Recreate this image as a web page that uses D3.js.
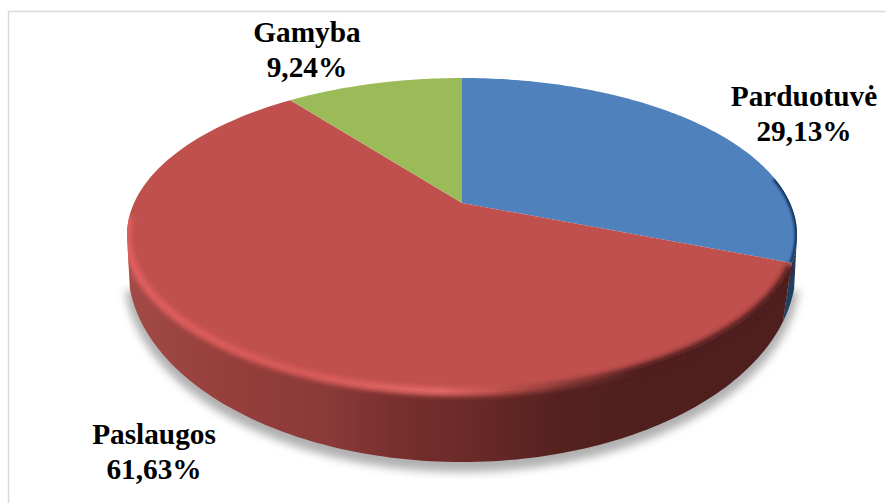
<!DOCTYPE html>
<html>
<head>
<meta charset="utf-8">
<script src="https://cdn.jsdelivr.net/npm/d3@7"></script>
<style>
  html, body { margin: 0; padding: 0; background: #fff; }
  text { font-family: "Liberation Serif", serif; font-weight: bold; font-size: 29.3px; fill: #000; text-anchor: middle; }
</style>
</head>
<body>
<script>
const width = 886;
const height = 503;

const categories = ["Parduotuvė", "Paslaugos", "Gamyba"];
const labelValues = ["29,13%", "61,63%", "9,24%"];
// wedge sizes: the drawn angles are not quite the printed percentages
const wedgeShares = [31, 58.6, 10.4];
const topColors = ["#4f81bd", "#c0504d", "#9bbb59"];

// perspective view of the disc, apex of the pie is at (apexX, apexY)
const apexX = 462, apexY = 203;
const spreadX = 328, spreadY = 150.5, tilt = 0.204;
function project(angle) {
  const u = Math.sin(angle), v = -Math.cos(angle), w = 1 - tilt * v;
  return [apexX + spreadX * u / w, apexY + spreadY * v / w];
}
// lower edge of the wall, same idea with less tilt
const baseCx = 462, baseCy = 268, baseRx = 334, baseRy = 194, baseTilt = 0.1;
function projectBase(angle) {
  const u = Math.sin(angle), v = -Math.cos(angle), w = 1 - baseTilt * v;
  return [baseCx + baseRx * Math.sqrt(1 - baseTilt * baseTilt) * u / w, baseCy + baseRy * (v - baseTilt) / w];
}

const svg = d3.select("body").append("svg")
  .attr("width", width)
  .attr("height", height)
  .style("display", "block");

const defs = svg.append("defs");
function blurFilter(id, dev) {
  defs.append("filter").attr("id", id)
    .attr("filterUnits", "userSpaceOnUse")
    .attr("x", 0).attr("y", 0).attr("width", width).attr("height", height)
    .append("feGaussianBlur").attr("stdDeviation", dev);
}
blurFilter("shadowBlur", 4);
blurFilter("rimBlur", 2.6);
blurFilter("edgeBlur", 1.2);

function gradient(id, stops) {
  const g = defs.append("linearGradient").attr("id", id)
    .attr("gradientUnits", "userSpaceOnUse")
    .attr("x1", 127).attr("x2", 798).attr("y1", 0).attr("y2", 0);
  stops.forEach(s => {
    g.append("stop").attr("offset", (s[0] - 127) / 671).attr("stop-color", s[1]);
  });
}
gradient("wallRed", [[127, "#a24a46"], [220, "#973f3c"], [330, "#8a3a38"], [400, "#762f2d"], [470, "#6a2a28"], [560, "#55211f"], [640, "#4f1f1e"], [798, "#4f1f1e"]]);
gradient("rimRed", [[127, "#e25e5e"], [300, "#d85b59"], [440, "#e56a68"], [500, "#c0504d"], [560, "#8a3a38"], [640, "#4f1f1e"], [798, "#4f1f1e"]]);

// frame, only the top and left edges fall inside the picture
svg.append("rect")
  .attr("x", 8.5).attr("y", 11.5)
  .attr("width", 900).attr("height", 520)
  .attr("fill", "#fff").attr("stroke", "#d9d9d9").attr("stroke-width", 1.5);

const pie = d3.pie().sort(null)(wedgeShares);
const arcLine = d3.line();

function arcPoints(start, end, fn) {
  const n = 120;
  return d3.range(n + 1).map(i => fn(start + (end - start) * i / n));
}

// front part of the disc, where the top face is at its widest
const frontStart = Math.PI / 2 + Math.asin(tilt);
const frontEnd = 2 * Math.PI - frontStart;

// ground shadow
svg.append("path")
  .attr("d", arcLine(arcPoints(frontStart, frontEnd, projectBase)) + "Z")
  .attr("transform", "translate(0,6)")
  .attr("fill", "#b0b0b0")
  .attr("stroke", "#b0b0b0")
  .attr("stroke-width", 8)
  .attr("filter", "url(#shadowBlur)");

// walls
const wallColors = ["#1f3f63", "url(#wallRed)", "#6f8a3c"];
const walls = svg.append("g");
pie.forEach((d, i) => {
  const s = Math.max(d.startAngle, frontStart), e = Math.min(d.endAngle, frontEnd);
  if (e <= s) return;
  const pts = arcPoints(s, e, project).concat(arcPoints(e, s, projectBase));
  walls.append("path").attr("d", arcLine(pts) + "Z").attr("fill", wallColors[i]);
});

// everything the bevel may paint on: top face and walls together
defs.append("clipPath").attr("id", "discClip")
  .append("path")
  .attr("d", arcLine(arcPoints(0, 2 * Math.PI, project)) + "Z " +
    arcLine(arcPoints(frontStart, frontEnd, project).concat(arcPoints(frontEnd, frontStart, projectBase))) + "Z");

// top faces
const faces = svg.append("g");
pie.forEach((d, i) => {
  const pts = [[apexX, apexY]].concat(arcPoints(d.startAngle, d.endAngle, project));
  faces.append("path").attr("d", arcLine(pts) + "Z").attr("fill", topColors[i]);
});

// bevel along the rim
const blue = pie[0], red = pie[1];
defs.append("clipPath").attr("id", "blueClip").append("path")
  .attr("d", arcLine([[apexX, apexY]].concat(arcPoints(blue.startAngle, blue.endAngle, project))) + "Z");
faces.append("g").attr("clip-path", "url(#blueClip)")
  .append("path")
  .attr("d", arcLine(arcPoints(blue.startAngle + 0.72 * (blue.endAngle - blue.startAngle), blue.endAngle, project)))
  .attr("fill", "none").attr("stroke", "#17365d").attr("stroke-width", 5).attr("filter", "url(#edgeBlur)");
faces.append("g").attr("clip-path", "url(#discClip)")
  .append("path")
  .attr("d", arcLine(arcPoints(red.startAngle + 0.02, frontEnd + 0.12, project)))
  .attr("fill", "none").attr("stroke", "url(#rimRed)").attr("stroke-width", 8).attr("filter", "url(#rimBlur)");

// labels
const labelX = [804, 154, 307];
const labelY = [106, 444, 42];
categories.forEach((name, i) => {
  const t = svg.append("text").attr("x", labelX[i]).attr("y", labelY[i]);
  t.append("tspan").attr("x", labelX[i]).text(name);
  t.append("tspan").attr("x", labelX[i]).attr("dy", 34.5).text(labelValues[i]);
});
</script>
</body>
</html>
